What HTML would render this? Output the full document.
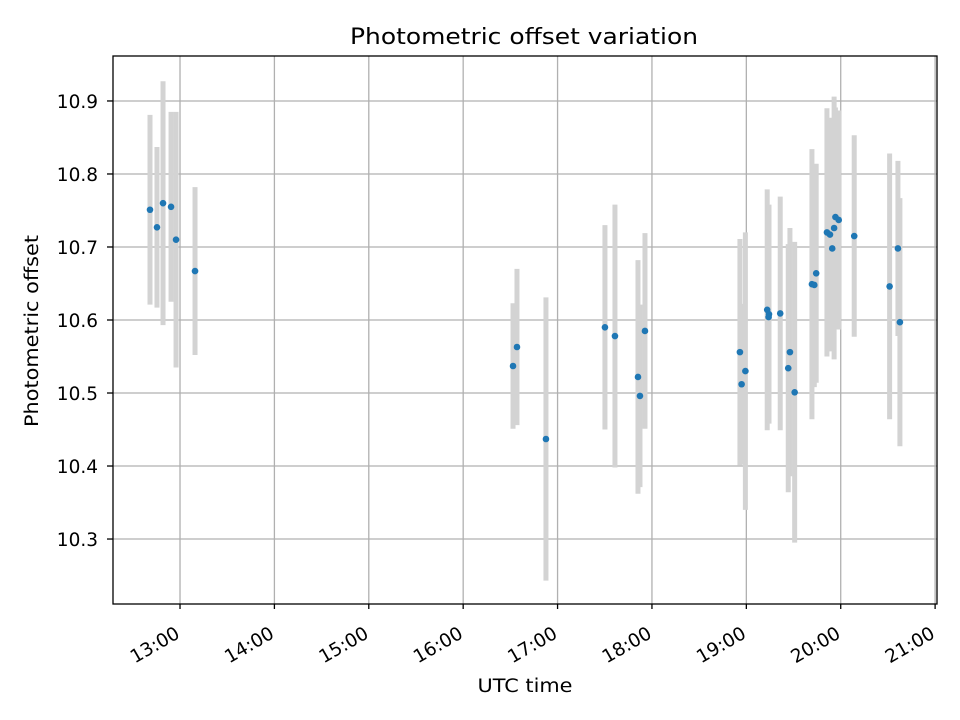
<!DOCTYPE html>
<html><head><meta charset="utf-8"><style>
body{margin:0;background:#fff;}
svg{display:block;font-family:"DejaVu Sans","Liberation Sans",sans-serif;}
</style></head><body>
<svg id="chart" width="960" height="720" viewBox="0 0 960 720">
<rect width="960" height="720" fill="#fff"/>
<text x="524" y="44" text-anchor="middle" style="font-size:22px" textLength="348" lengthAdjust="spacingAndGlyphs">Photometric offset variation</text>
<g id="grid"></g>
<g id="bars"></g>
<g id="points"></g>
<g id="xticks"></g>
<g id="yticks"></g>
<rect x="113" y="56" width="824" height="548" fill="none" stroke="#000" stroke-width="1.3"/>
<text x="525" y="692" text-anchor="middle" style="font-size:18.5px" textLength="95" lengthAdjust="spacingAndGlyphs">UTC time</text>
<text transform="translate(38,331) rotate(-90)" text-anchor="middle" style="font-size:18.5px" textLength="192" lengthAdjust="spacingAndGlyphs">Photometric offset</text>
</svg>
<script>
const times=[12.682,12.756,12.820,12.905,12.958,13.159,16.528,16.570,16.877,17.502,17.608,17.852,17.873,17.926,18.932,18.990,18.950,19.221,19.240,19.236,19.359,19.462,19.444,19.512,19.695,19.720,19.740,19.854,19.886,19.910,19.930,19.944,19.979,20.143,20.518,20.606,20.627];
const offsets=[10.751,10.727,10.760,10.755,10.710,10.667,10.537,10.563,10.437,10.590,10.578,10.522,10.496,10.585,10.556,10.530,10.512,10.614,10.608,10.604,10.609,10.556,10.534,10.501,10.649,10.648,10.664,10.720,10.717,10.698,10.726,10.741,10.737,10.715,10.646,10.698,10.597];
const errors=[0.13,0.11,0.167,0.13,0.175,0.115,0.086,0.107,0.194,0.14,0.18,0.16,0.125,0.134,0.155,0.19,0.11,0.165,0.15,0.14,0.16,0.17,0.17,0.206,0.185,0.14,0.15,0.17,0.16,0.12,0.18,0.15,0.15,0.138,0.182,0.12,0.17];
const xTickHours=[13,14,15,16,17,18,19,20,21];
const xTickLabels=["13:00","14:00","15:00","16:00","17:00","18:00","19:00","20:00","21:00"];
const yTicks=[10.3,10.4,10.5,10.6,10.7,10.8,10.9];
const X0=113,X1=937,Y0=56,Y1=604,XMIN=12.29,XMAX=21.02,YMIN=10.211,YMAX=10.9616;
const xs=h=>X0+(h-XMIN)/(XMAX-XMIN)*(X1-X0);
const ys=v=>Y1-(v-YMIN)/(YMAX-YMIN)*(Y1-Y0);
const NS="http://www.w3.org/2000/svg";
function mk(t,a,p){const e=document.createElementNS(NS,t);for(const k in a)e.setAttribute(k,a[k]);p.appendChild(e);return e;}
const grid=document.getElementById('grid'),bars=document.getElementById('bars'),pts=document.getElementById('points'),xt=document.getElementById('xticks'),yt=document.getElementById('yticks');
xTickHours.forEach((h,i)=>{const x=xs(h);
 const g=mk('line',{x1:x,x2:x,y1:Y0,y2:Y1,stroke:'#b0b0b0','stroke-width':1.3},grid);
 
 
 mk('line',{x1:x,x2:x,y1:Y1,y2:Y1+5,stroke:'#000','stroke-width':1.3},xt);
 const ax=x+1,ay=Y1+33;
 const t=mk('text',{x:ax,y:ay,'text-anchor':'end',style:'font-size:18.5px',transform:`rotate(-30 ${ax} ${ay})`},xt);
 t.textContent=xTickLabels[i];
 
 
});
yTicks.forEach(v=>{const y=ys(v);
 const g=mk('line',{x1:X0,x2:X1,y1:y,y2:y,stroke:'#b0b0b0','stroke-width':1.3},grid);
 
 
 mk('line',{x1:X0-6,x2:X0,y1:y,y2:y,stroke:'#000','stroke-width':1.3},yt);
 const t=mk('text',{x:X0-15,y:y+7,'text-anchor':'end',style:'font-size:18.5px'},yt);
 t.textContent=v.toFixed(1);
 
 
});
times.forEach((h,i)=>{const x=xs(h);
 const b=mk('line',{x1:x,x2:x,y1:ys(offsets[i]-errors[i]),y2:ys(offsets[i]+errors[i]),stroke:'#d3d3d3','stroke-width':5},bars);
 
 
});
times.forEach((h,i)=>{
 const c=mk('circle',{cx:xs(h),cy:ys(offsets[i]),r:3.3,fill:'#1f77b4'},pts);
 
 
});
</script>
</body></html>
